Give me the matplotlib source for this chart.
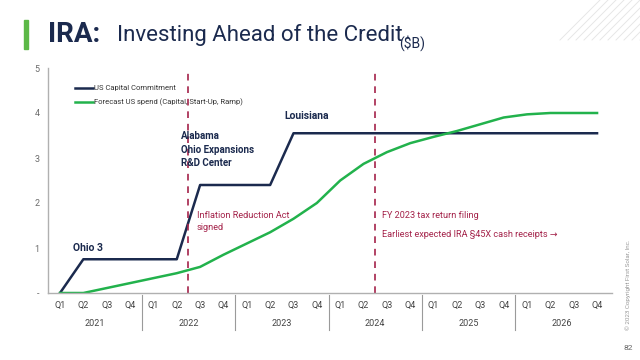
import matplotlib
matplotlib.use("Agg")
import matplotlib.pyplot as plt
from matplotlib.lines import Line2D

quarters = ["Q1", "Q2", "Q3", "Q4"]
years = ["2021", "2022", "2023", "2024", "2025", "2026"]
commitment = [0, 0.75, 0.75, 0.75, 0.75, 0.75, 2.4, 2.4, 2.4, 2.4, 3.55, 3.55,
              3.55, 3.55, 3.55, 3.55, 3.55, 3.55, 3.55, 3.55, 3.55, 3.55, 3.55, 3.55]
forecast = [0, 0, 0.11, 0.22, 0.33, 0.44, 0.58, 0.85, 1.1, 1.35, 1.65, 2.0,
            2.5, 2.87, 3.13, 3.33, 3.47, 3.6, 3.75, 3.9, 3.97, 4.0, 4.0, 4.0]
ytick_vals = [0, 1, 2, 3, 4, 5]
ytick_labels = ["-", "1", "2", "3", "4", "5"]
event_pos = [5.5, 13.5]

plt.rcParams['font.family'] = ['Roboto', 'DejaVu Sans']

NAVY = "#1b2a4e"
GREEN = "#22b24c"
RED = "#a4234a"
GRAY = "#6b6b6b"

fig = plt.figure(figsize=(6.4, 3.6), dpi=100)
ax = fig.add_axes([48/640, 1-293/360, (612-48)/640, 225/360])

x = list(range(len(commitment)))
ax.plot(x, commitment, color=NAVY, lw=1.8, label="US Capital Commitment")
ax.plot(x, forecast, color=GREEN, lw=1.8, label="Forecast US spend (Capital, Start-Up, Ramp)")
for p in event_pos:
    ax.axvline(p, color=RED, lw=1.2, ls=(0, (4, 3.5)))

ax.set_xlim(-0.514, 23.64)
ax.set_ylim(0, 5)
ax.set_yticks(ytick_vals)
ax.set_yticklabels(ytick_labels, fontsize=6.5, color=GRAY)
ax.tick_params(axis='y', length=0, pad=6)
ax.set_xticks([])
for s in ["top", "right"]:
    ax.spines[s].set_visible(False)
for s in ["left", "bottom"]:
    ax.spines[s].set_color("#b0b0b0")
    ax.spines[s].set_linewidth(1.0)

trans = ax.get_xaxis_transform()
for i in range(24):
    ax.text(i, -0.055, quarters[i % 4], transform=trans, ha='center', va='center',
            fontsize=6.5, color="#444444")
for k, yr in enumerate(years):
    ax.text(4*k + 1.5, -0.135, yr, transform=trans, ha='center', va='center',
            fontsize=6.5, color="#444444")
for k in range(1, 6):
    ax.add_line(Line2D([4*k - 0.5]*2, [-0.01, -0.165], transform=trans,
                       color="#9a9a9a", lw=0.8, clip_on=False))

leg = ax.legend(loc='upper left', bbox_to_anchor=(0.035, 0.955), frameon=False,
                fontsize=5.5, handlelength=2.4, handletextpad=0.1, labelspacing=0.95)
for t in leg.get_texts():
    t.set_color("#333333")

ax.text(0.55, 1.0, "Ohio 3", color=NAVY, fontsize=7.5, fontweight='bold', va='center')
ax.text(5.2, 3.18, "Alabama\nOhio Expansions\nR&D Center", color=NAVY, fontsize=7,
        fontweight='bold', va='center', linespacing=1.45)
ax.text(9.6, 3.93, "Louisiana", color=NAVY, fontsize=7.5, fontweight='bold', va='center')
ax.text(5.85, 1.59, "Inflation Reduction Act\nsigned", color=RED, fontsize=6.6,
        va='center', linespacing=1.5)
ax.text(13.8, 1.73, "FY 2023 tax return filing", color=RED, fontsize=6.6, va='center')
ax.text(13.8, 1.29, "Earliest expected IRA §45X cash receipts \u2192", color=RED,
        fontsize=6.6, va='center')

# Title
fig.patches.append(plt.Rectangle((24/640, 1-49/360), 4/640, 29/360,
                                 transform=fig.transFigure, color="#5cb847"))
fig.text(48/640, 1-35/360, "IRA:", fontsize=20, fontweight='bold', color=NAVY,
         va='center')
fig.text(117/640, 1-35/360, "Investing Ahead of the Credit", fontsize=16, color=NAVY,
         va='center')
fig.text(399/640, 1-43/360, "($B)", fontsize=10, color=NAVY, va='center')

# decorative stripes
for k in range(12):
    x0 = 560 + k*8
    fig.add_artist(Line2D([x0/640, (x0+40)/640], [1-40/360, 1-0/360],
                          transform=fig.transFigure, color="#e6e6e6", lw=0.7))

fig.text(628/640, 1-285/360, "\u00a9 2023 Copyright First Solar, Inc.", rotation=90,
         fontsize=4.5, color="#999999", ha='center', va='center')
fig.text(628/640, 1-348/360, "82", fontsize=6, color="#666666", ha='center', va='center')

fig.savefig("out.png", dpi=100)
